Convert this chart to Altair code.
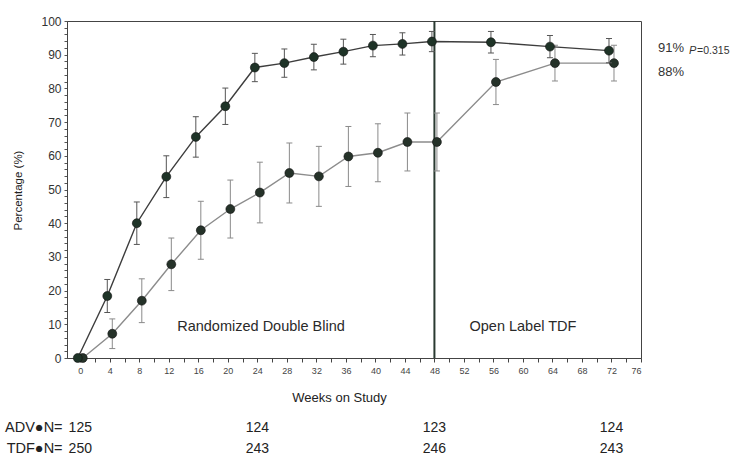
import altair as alt
import pandas as pd

# ---- data ----
weeks = [0, 4, 8, 12, 16, 20, 24, 28, 32, 36, 40, 44, 48, 56, 64, 72]
tdf_pct = [0, 18.4, 40.0, 53.8, 65.6, 74.7, 86.2, 87.5, 89.3, 90.9, 92.7, 93.2, 93.9, 93.7, 92.4, 91.2]
tdf_err = [0, 4.9, 6.3, 6.2, 6.0, 5.4, 4.2, 4.2, 3.8, 3.7, 3.3, 3.3, 3.0, 3.2, 3.3, 3.6]
adv_pct = [0, 7.2, 17.0, 27.8, 37.9, 44.2, 49.1, 54.9, 53.9, 59.8, 60.9, 64.1, 64.1, 81.9, 87.5, 87.5]
adv_err = [0, 4.4, 6.5, 7.8, 8.6, 8.6, 9.0, 8.9, 8.9, 8.9, 8.6, 8.6, 8.6, 6.7, 5.3, 5.3]

n_weeks = [0, 24, 48, 72]
n_adv = [125, 124, 123, 124]
n_tdf = [250, 243, 246, 243]

switch_week = 48
phase_labels = ["Randomized Double Blind", "Open Label TDF"]
end_labels = ["91%", "88%"]
p_value = "=0.315"

FONT = "Liberation Sans"

rows = []
for arm, vals, errs in (("TDF", tdf_pct, tdf_err), ("ADV", adv_pct, adv_err)):
    for w, v, e in zip(weeks, vals, errs):
        rows.append(dict(arm=arm, week=w, pct=v, lo=v - e, hi=v + e, err=e))
df = pd.DataFrame(rows)

xscale = alt.Scale(domain=[-1.8, 76], nice=False, zero=False)
yscale = alt.Scale(domain=[0, 100], nice=False, zero=False)

xaxis = alt.Axis(
    title="Weeks on Study", values=list(range(0, 77, 2)),
    labelExpr="datum.value % 4 == 0 ? datum.label : ''", labelOverlap=False,
    grid=False, tickSize=4, labelFontSize=9, labelColor="#444", labelFont=FONT,
    titleFont=FONT, titleFontSize=13, titleFontWeight="normal", titleColor="#222",
    titleX=272, titleY=39, titleBaseline="middle", titleAlign="center",
    domainColor="#444", tickColor="#444", labelPadding=4,
)
yaxis = alt.Axis(
    title="Percentage (%)", values=list(range(0, 101, 2)),
    labelExpr="datum.value % 10 == 0 ? datum.label : ''", labelOverlap=False,
    grid=False, tickSize=3, labelFontSize=12, labelColor="#333", labelFont=FONT,
    titleFont=FONT, titleFontSize=11.5, titleFontWeight="normal", titleColor="#222",
    titleX=-49, titleY=169, titleAngle=-90, titleBaseline="middle", titleAlign="center",
    domainColor="#444", tickColor="#555", labelPadding=3,
)

X = alt.X("week:Q", scale=xscale, axis=xaxis)
Y = alt.Y("pct:Q", scale=yscale, axis=yaxis)


def series(arm, dx, line_color, bar_color, pt_color):
    d = df[df.arm == arm]
    de = d[d.err > 0]
    base = alt.Chart(d)
    ebase = alt.Chart(de)
    line = base.mark_line(color=line_color, strokeWidth=1.4, xOffset=dx).encode(x=X, y=Y)
    bars = ebase.mark_rule(color=bar_color, strokeWidth=1, xOffset=dx, x2Offset=dx).encode(
        x=X, y=alt.Y("lo:Q", scale=yscale, axis=yaxis), y2="hi:Q")
    cap_hi = ebase.mark_rule(color=bar_color, strokeWidth=1, xOffset=dx - 3, x2Offset=dx + 3).encode(
        x=X, x2="week:Q", y=alt.Y("hi:Q", scale=yscale, axis=yaxis))
    cap_lo = ebase.mark_rule(color=bar_color, strokeWidth=1, xOffset=dx - 3, x2Offset=dx + 3).encode(
        x=X, x2="week:Q", y=alt.Y("lo:Q", scale=yscale, axis=yaxis))
    pts = base.mark_circle(size=80, color=pt_color, opacity=1, xOffset=dx,
                           stroke="#111", strokeWidth=0.6).encode(x=X, y=Y)
    return [bars, cap_hi, cap_lo, line, pts]


adv_layers = series("ADV", 2.5, "#8c8c8c", "#8a8a8a", "#253229")
tdf_layers = series("TDF", -2.5, "#3d3d3d", "#555555", "#1e3327")

vline = alt.Chart(pd.DataFrame({"week": [switch_week]})).mark_rule(
    color="#2a3a31", strokeWidth=2).encode(
    x=X, y=alt.Y(datum=0, scale=yscale, axis=yaxis), y2=alt.Y2(datum=100))

phase_df = pd.DataFrame({"week": [24.5, 60.0], "pct": [9.3, 9.3], "label": phase_labels})
phase = alt.Chart(phase_df).mark_text(font=FONT, fontSize=14.5, color="#2a2a2a",
                                      baseline="middle", align="center").encode(x=X, y=Y, text="label:N")

end_df = pd.DataFrame({"week": [78.3, 78.3], "pct": [92.0, 84.8], "label": end_labels})
ends = alt.Chart(end_df).mark_text(font=FONT, fontSize=13, color="#333",
                                   align="left", baseline="middle").encode(x=X, y=Y, text="label:N")
p_df = pd.DataFrame({"week": [82.5], "pct": [91.2], "label": ["P"]})
p_letter = alt.Chart(p_df).mark_text(font=FONT, fontSize=11, fontStyle="italic", color="#333",
                                     align="left", baseline="middle").encode(x=X, y=Y, text="label:N")
pv_df = pd.DataFrame({"week": [83.6], "pct": [91.2], "label": [p_value]})
p_val = alt.Chart(pv_df).mark_text(font=FONT, fontSize=10.5, color="#333",
                                   align="left", baseline="middle").encode(x=X, y=Y, text="label:N")

# N at risk table under the axis
n_rows = []
for w, a, t in zip(n_weeks, n_adv, n_tdf):
    n_rows.append(dict(week=w, pct=-20.8, label=str(a)))
    n_rows.append(dict(week=w, pct=-27.0, label=str(t)))
n_df = pd.DataFrame(n_rows)
ntext = alt.Chart(n_df).mark_text(font=FONT, fontSize=14, color="#222",
                                  align="center", baseline="middle").encode(x=X, y=Y, text="label:N")
rowlab_df = pd.DataFrame({"week": [-2.4, -2.4], "pct": [-20.8, -27.0],
                          "label": ["ADV\u25cfN=", "TDF\u25cfN="]})
rowlab = alt.Chart(rowlab_df).mark_text(font=FONT, fontSize=14.5, color="#222",
                                        align="right", baseline="middle").encode(x=X, y=Y, text="label:N")

chart = alt.layer(
    vline, *adv_layers, *tdf_layers, phase, ends, p_letter, p_val, ntext, rowlab
).properties(
    width=574, height=337,
    autosize=alt.AutoSizeParams(type="none"),
    padding={"left": 67, "top": 21, "right": 113, "bottom": 100},
    background="white",
).configure_view(stroke="#444", strokeWidth=1)

chart.save("out.html", embed_options={"renderer": "svg", "actions": False})
